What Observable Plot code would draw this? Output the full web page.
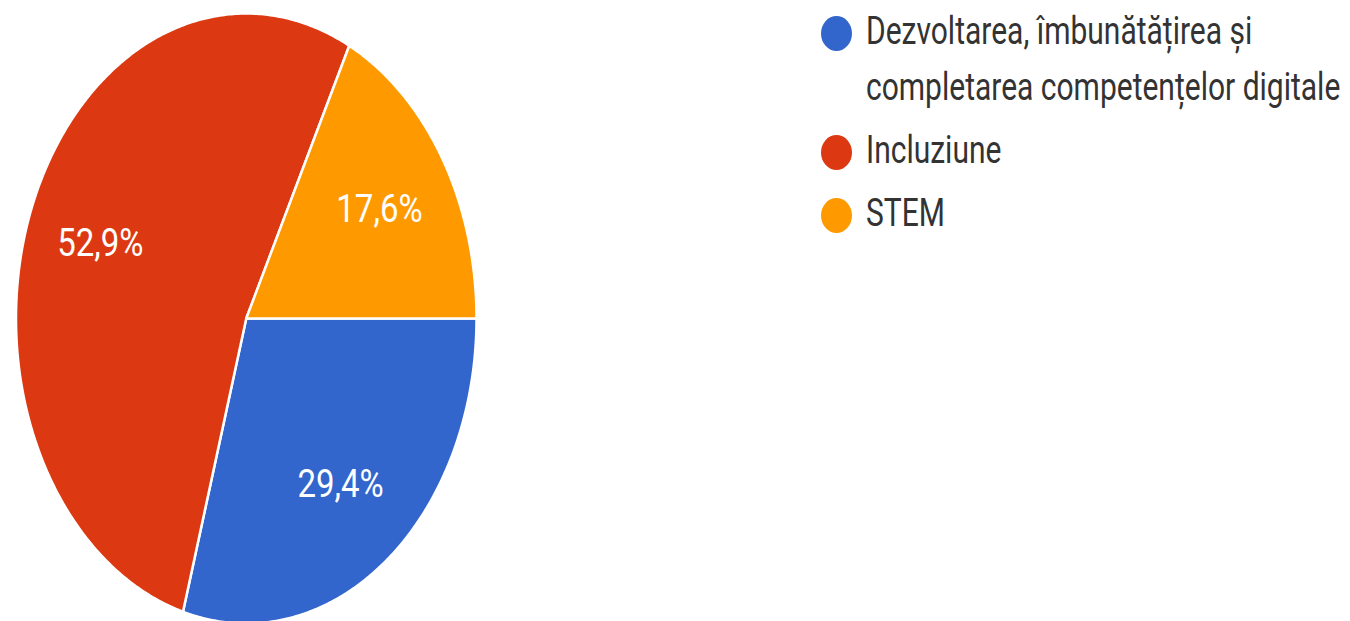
<!DOCTYPE html>
<html><head><meta charset="utf-8">
<script src="https://cdn.jsdelivr.net/npm/d3@7"></script>
<script src="https://cdn.jsdelivr.net/npm/@observablehq/plot@0.6"></script>
<style>
html,body{margin:0;padding:0;background:#fff;overflow:hidden}
#wrap{position:relative;width:1350px;height:621px}
#chart{position:absolute;left:0;top:0}
#legend{position:absolute;left:0;top:0}
</style></head><body><div id="wrap"><div id="chart"></div><svg id="legend" width="1350" height="621"></svg></div>
<script>
// ---- data ----
const categories = ["Dezvoltarea, îmbunătățirea și completarea competențelor digitale", "Incluziune", "STEM"];
const percentages = [29.4, 52.9, 17.6];
const percentLabels = ["29,4%", "52,9%", "17,6%"];
const legendLines = [["Dezvoltarea, îmbunătățirea și", "completarea competențelor digitale"], ["Incluziune"], ["STEM"]];
const sliceColors = ["#3366cc", "#dc3912", "#ff9900"];

// ---- pie geometry derived from data (unit circle, clockwise from 12 o'clock) ----
const arcs = d3.pie().sort(null).startAngle(Math.PI / 2).endAngle(Math.PI / 2 + 2 * Math.PI)(percentages);
const slicePts = [];
arcs.forEach((a, i) => {
  const n = Math.max(2, Math.ceil((a.endAngle - a.startAngle) / 0.01));
  slicePts.push({cat: categories[i], u: 0, v: 0});
  for (let k = 0; k <= n; k++) {
    const t = a.startAngle + (a.endAngle - a.startAngle) * k / n;
    slicePts.push({cat: categories[i], u: Math.sin(t), v: Math.cos(t)});
  }
  slicePts.push({cat: categories[i], u: 0, v: 0});
});
const labelPts = arcs.map((a, i) => {
  const m = (a.startAngle + a.endAngle) / 2;
  return {label: percentLabels[i], u: 0.68 * Math.sin(m), v: 0.68 * Math.cos(m)};
});

const chart = Plot.plot({
  width: 1350, height: 621,
  x: {domain: [-1, 1], range: [15.5, 476], axis: null},
  y: {domain: [-1, 1], range: [623, 13], axis: null},
  color: {domain: categories, range: sliceColors},
  style: {fontFamily: "Roboto, sans-serif", background: "transparent"},
  marks: [
    Plot.line(slicePts, {x: "u", y: "v", z: "cat", fill: "cat", stroke: "white", strokeWidth: 2.5, curve: "linear"}),
    Plot.text(labelPts, {x: "u", y: "v", text: "label", fill: "white", fontSize: 33})
  ]
});
document.getElementById("chart").appendChild(chart);
// stretch the percentage labels vertically like the reference
d3.select(chart).selectAll('g[aria-label="text"] text').each(function () {
  const el = d3.select(this);
  const tr = el.attr("transform");
  if (tr) el.attr("transform", tr + " scale(1,1.2)");
  else {
    const x = +el.attr("x") || 0, y = +el.attr("y") || 0;
    el.attr("x", null).attr("y", null).attr("transform", `translate(${x},${y}) scale(1,1.2)`);
  }
});

// ---- legend ----
const leg = d3.select("#legend");
let baseline = 44;
legendLines.forEach((lines, i) => {
  leg.append("ellipse").attr("cx", 836.5).attr("cy", baseline - 10.5).attr("rx", 15.5).attr("ry", 17.5).attr("fill", sliceColors[i]);
  lines.forEach((line, j) => {
    leg.append("text")
      .attr("transform", `translate(866,${baseline}) scale(1,1.3)`)
      .attr("font-family", "Roboto, sans-serif")
      .attr("font-size", 30)
      .attr("fill", "#333")
      .text(line);
    if (j < lines.length - 1) baseline += 56;
  });
  baseline += 63;
});
</script></body></html>
